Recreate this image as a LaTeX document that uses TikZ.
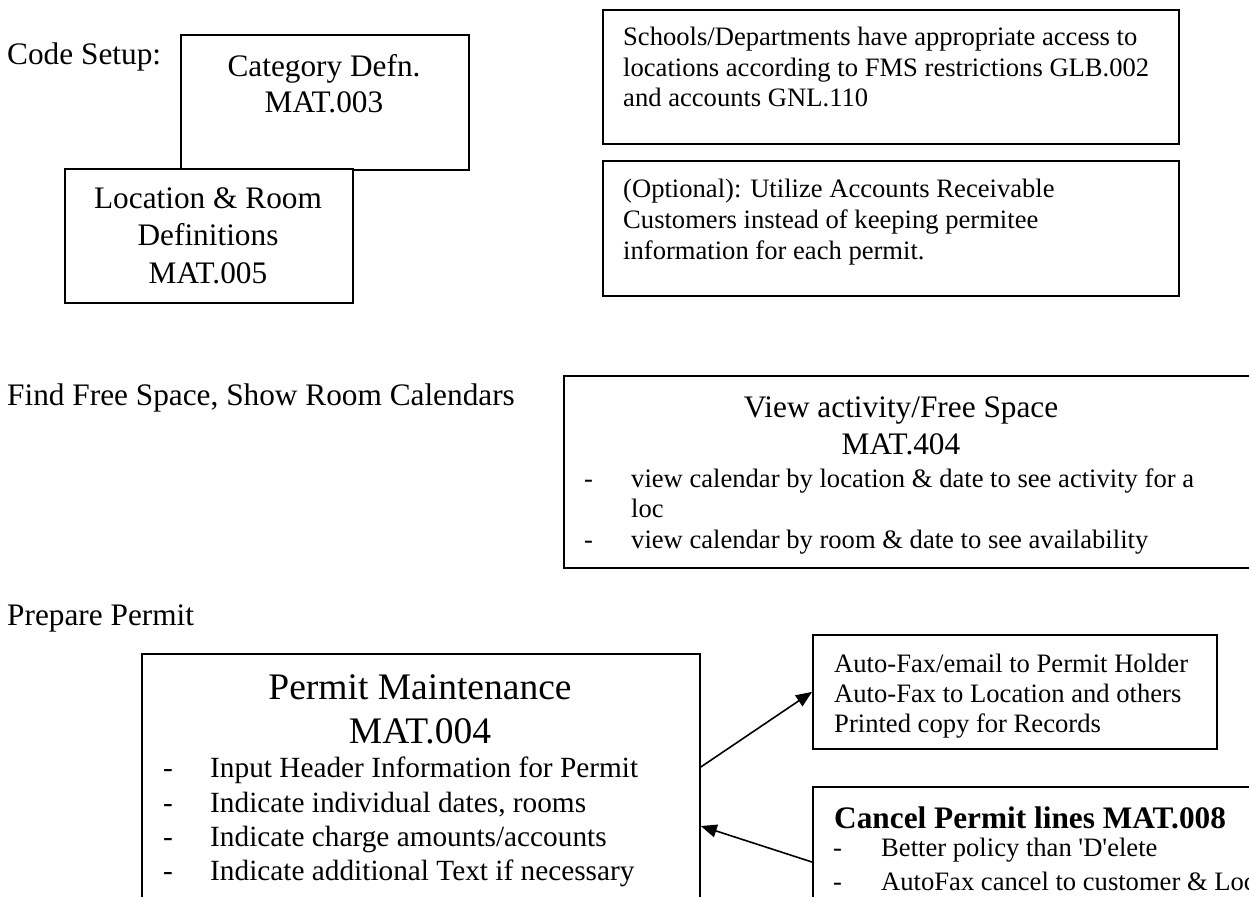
\documentclass[tikz,border=0pt]{standalone}
\usepackage{fontspec}
\setmainfont{Liberation Serif}[Ligatures=TeXOff]
\usetikzlibrary{arrows.meta,calc}
\newcommand{\SzHead}{\fontsize{31.3pt}{36pt}\selectfont}
\newcommand{\SzBody}{\fontsize{26.6pt}{30.6pt}\selectfont}
\newcommand{\SzTitle}{\fontsize{37.5pt}{43pt}\selectfont}
\newcommand{\SzPerm}{\fontsize{29.3pt}{34pt}\selectfont}
\begin{document}
\begin{tikzpicture}[x=1pt,y=-1pt,
  box/.style={draw=black,line width=1.8pt,fill=white,rectangle,inner sep=0pt,anchor=north west},
  head/.style={inner sep=0pt,font=\SzHead},
  body/.style={inner sep=0pt,font=\SzBody},
  ttl/.style={inner sep=0pt,font=\SzTitle},
  perm/.style={inner sep=0pt,font=\SzPerm},
  arr/.style={line width=1.6pt,-{Triangle[length=16pt,width=13pt]}}]
\useasboundingbox (0,0) rectangle (1249,896);
\fill[white] (0,0) rectangle (1249,896);

% boxes
\node[box,minimum width=288pt,minimum height=135pt] (cat) at (180,34) {};
\node[box,minimum width=288pt,minimum height=134pt] (loc) at (64,168) {};
\node[box,minimum width=576pt,minimum height=134pt] (acc) at (602,9) {};
\node[box,minimum width=576pt,minimum height=135pt] (opt) at (602,160) {};
\node[box,minimum width=720pt,minimum height=192pt] (view) at (563,375) {};
\node[box,minimum width=558pt,minimum height=320pt] (permit) at (141,653) {};
\node[box,minimum width=404pt,minimum height=114pt] (fax) at (812,634) {};
\node[box,minimum width=480pt,minimum height=200pt] (cancel) at (812,786) {};

% section labels
\node[head,anchor=base west] (lcode) at (7,65) {Code Setup:};
\node[head,anchor=base west] (lfind) at (7,405) {Find Free Space, Show Room Calendars};
\node[head,anchor=base west] (lprep) at (7,625) {Prepare Permit};

% category
\node[head,anchor=base] (cat1) at (324,77) {Category Defn.};
\node[head,anchor=base] (cat2) at (324,113) {MAT.003};

% location
\node[head,anchor=base] (loc1) at (208,208) {Location \& Room};
\node[head,anchor=base] (loc2) at (208,245.5) {Definitions};
\node[head,anchor=base] (loc3) at (208,283) {MAT.005};

% access
\node[body,anchor=base west] (acc1) at (623,46) {Schools/Departments have appropriate access to};
\node[body,anchor=base west] (acc2) at (623,77) {locations according to FMS restrictions GLB.002};
\node[body,anchor=base west] (acc3) at (623,107) {and accounts GNL.110};

% optional
\node[body,anchor=base west] (opt1) at (623,197) {(Optional): Utilize Accounts Receivable};
\node[body,anchor=base west] (opt2) at (623,228) {Customers instead of keeping permitee};
\node[body,anchor=base west] (opt3) at (623,259) {information for each permit.};

% view
\node[head,anchor=base] (view1) at (901,417) {View activity/Free Space};
\node[head,anchor=base] (view2) at (901,454) {MAT.404};
\node[body,anchor=base west] (vd1) at (584,487) {-};
\node[body,anchor=base west] (vb1) at (631,487) {view calendar by location \& date to see activity for a};
\node[body,anchor=base west] (vb1b) at (631,517) {loc};
\node[body,anchor=base west] (vd2) at (584,548) {-};
\node[body,anchor=base west] (vb2) at (631,548) {view calendar by room \& date to see availability};

% permit
\node[ttl,anchor=base] (p1) at (420,699) {Permit Maintenance};
\node[ttl,anchor=base] (p2) at (420,743) {MAT.004};
\node[perm,anchor=base west] (pd1) at (163,777) {-};
\node[perm,anchor=base west] (pb1) at (210,777) {Input Header Information for Permit};
\node[perm,anchor=base west] (pd2) at (163,812) {-};
\node[perm,anchor=base west] (pb2) at (210,812) {Indicate individual dates, rooms};
\node[perm,anchor=base west] (pd3) at (163,846) {-};
\node[perm,anchor=base west] (pb3) at (210,846) {Indicate charge amounts/accounts};
\node[perm,anchor=base west] (pd4) at (163,880) {-};
\node[perm,anchor=base west] (pb4) at (210,880) {Indicate additional Text if necessary};

% fax
\node[body,anchor=base west] (f1) at (834,672) {Auto-Fax/email to Permit Holder};
\node[body,anchor=base west] (f2) at (834,702) {Auto-Fax to Location and others};
\node[body,anchor=base west] (f3) at (834,732) {Printed copy for Records};

% cancel
\node[head,anchor=base west,font=\SzHead\bfseries] (c1) at (834,828) {Cancel Permit lines MAT.008};
\node[body,anchor=base west] (cd1) at (833,856) {-};
\node[body,anchor=base west] (cb1) at (881,856) {Better policy than 'D'elete};
\node[body,anchor=base west] (cd2) at (833,890) {-};
\node[body,anchor=base west] (cb2) at (881,890) {AutoFax cancel to customer \& Loc};

% connectors
\draw[arr] ($(permit.north east)+(0,114)$) -- (fax.west);
\draw[arr] ($(cancel.north west)+(0,76)$) -- ($(permit.north east)+(0,173)$);
\end{tikzpicture}
\end{document}
